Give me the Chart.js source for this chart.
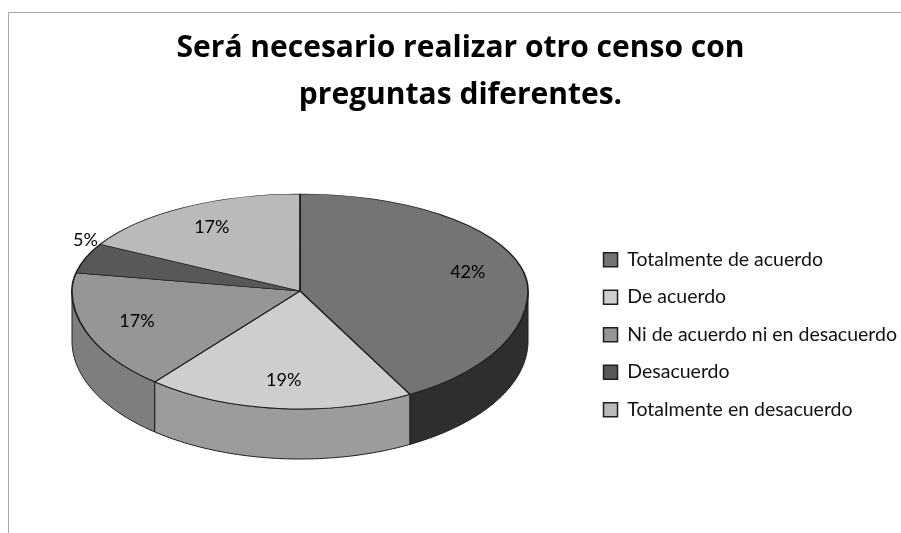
<!DOCTYPE html>
<html>
<head>
<meta charset="utf-8">
<script src="https://cdn.jsdelivr.net/npm/chart.js@4.4.0/dist/chart.umd.min.js"></script>
<style>
  html, body { margin: 0; padding: 0; background: #fff; }
</style>
</head>
<body>
<canvas id="censoChart" width="901" height="533"></canvas>
<script>
var categories = ['Totalmente de acuerdo', 'De acuerdo', 'Ni de acuerdo ni en desacuerdo', 'Desacuerdo', 'Totalmente en desacuerdo'];
var percents = [42, 19, 17, 5, 17];
var topColors = ['#747474', '#cecece', '#969696', '#585858', '#bababa'];
var sideColors = ['#2e2e2e', '#9c9c9c', '#7e7e7e', '#3c3c3c', '#909090'];

// shape of the tilted pie (pixels)
var tilt = { rx: 228, ryTop: 97, ryBot: 118, depth: 50, dy: 160 };

function pieCenter(chart) {
    var a = chart.chartArea;
    return { x: Math.round((a.left + a.right) / 2), y: Math.round(a.top + tilt.dy) };
}

// chart.js angle -> point on the flattened rim
function rim(c, ang, f) {
    var s = Math.sin(ang);
    return {
        x: c.x + tilt.rx * f * Math.cos(ang),
        y: c.y + (s < 0 ? tilt.ryTop : tilt.ryBot) * f * s
    };
}

var frame = {
    id: 'frame',
    beforeDraw: function(chart) {
        var ctx = chart.ctx;
        ctx.save();
        ctx.strokeStyle = '#a8a8a8';
        ctx.lineWidth = 1;
        ctx.beginPath();
        ctx.moveTo(8.5, chart.height);
        ctx.lineTo(8.5, 12.5);
        ctx.lineTo(chart.width, 12.5);
        ctx.stroke();
        ctx.restore();
    }
};

var pie3d = {
    id: 'pie3d',
    beforeDatasetsDraw: function(chart) {
        var ctx = chart.ctx;
        var meta = chart.getDatasetMeta(0);
        var c = pieCenter(chart);
        var arcs = meta.data;

        // sides (front half only)
        arcs.forEach(function(arc, i) {
            var lo = Math.max(arc.startAngle, 0);
            var hi = Math.min(arc.endAngle, Math.PI);
            if (hi <= lo) return;
            var steps = 60, k, p;
            ctx.save();
            ctx.beginPath();
            for (k = 0; k <= steps; k++) {
                p = rim(c, lo + (hi - lo) * k / steps, 1);
                if (k === 0) ctx.moveTo(p.x, p.y); else ctx.lineTo(p.x, p.y);
            }
            for (k = steps; k >= 0; k--) {
                p = rim(c, lo + (hi - lo) * k / steps, 1);
                ctx.lineTo(p.x, p.y + tilt.depth);
            }
            ctx.closePath();
            ctx.fillStyle = sideColors[i];
            ctx.fill();
            ctx.strokeStyle = '#1e1e1e';
            ctx.lineWidth = 1;
            ctx.stroke();
            ctx.restore();
        });

        // top face: far half and near half squashed differently
        var a0 = arcs[0];
        var R = a0.outerRadius;
        [[0, c.y, tilt.ryTop], [c.y, chart.height, tilt.ryBot]].forEach(function(part) {
            ctx.save();
            ctx.beginPath();
            ctx.rect(0, part[0], chart.width, part[1] - part[0]);
            ctx.clip();
            ctx.translate(c.x, c.y);
            ctx.scale(tilt.rx / R, part[2] / R);
            ctx.translate(-a0.x, -a0.y);
            meta.controller.draw();
            ctx.restore();
        });

        // percentage labels
        ctx.save();
        ctx.font = '18px Lato';
        ctx.fillStyle = '#000';
        ctx.textAlign = 'center';
        ctx.textBaseline = 'middle';
        arcs.forEach(function(arc, i) {
            var mid = (arc.startAngle + arc.endAngle) / 2;
            var p;
            if (percents[i] < 8) {
                p = rim(c, mid, 1);
                p.y -= 18;
            } else {
                p = rim(c, mid, 0.76);
            }
            ctx.fillText(percents[i] + '%', p.x, p.y);
        });
        ctx.restore();
        return false;
    }
};

var ctx = document.getElementById('censoChart').getContext('2d');
var censoChart = new Chart(ctx, {
    type: 'pie',
    data: {
        labels: categories,
        datasets: [{
            data: percents,
            backgroundColor: topColors,
            borderColor: '#1e1e1e',
            borderWidth: 1.5
        }]
    },
    options: {
        responsive: false,
        animation: false,
        layout: { padding: { left: 14, right: -6 } },
        plugins: {
            title: {
                display: true,
                text: ['Será necesario realizar otro censo con', 'preguntas diferentes.'],
                color: '#000',
                font: { family: 'Open Sans', size: 30, weight: 'bold', lineHeight: 1.57 },
                padding: { top: 25, bottom: 12 }
            },
            legend: {
                position: 'right',
                title: { display: true, text: '', padding: 61, font: { size: 12 } },
                labels: {
                    color: '#111',
                    font: { family: 'Lato', size: 19.5 },
                    boxWidth: 14,
                    boxHeight: 14,
                    padding: 18
                }
            },
            tooltip: { enabled: false }
        }
    },
    plugins: [frame, pie3d]
});
</script>
</body>
</html>
